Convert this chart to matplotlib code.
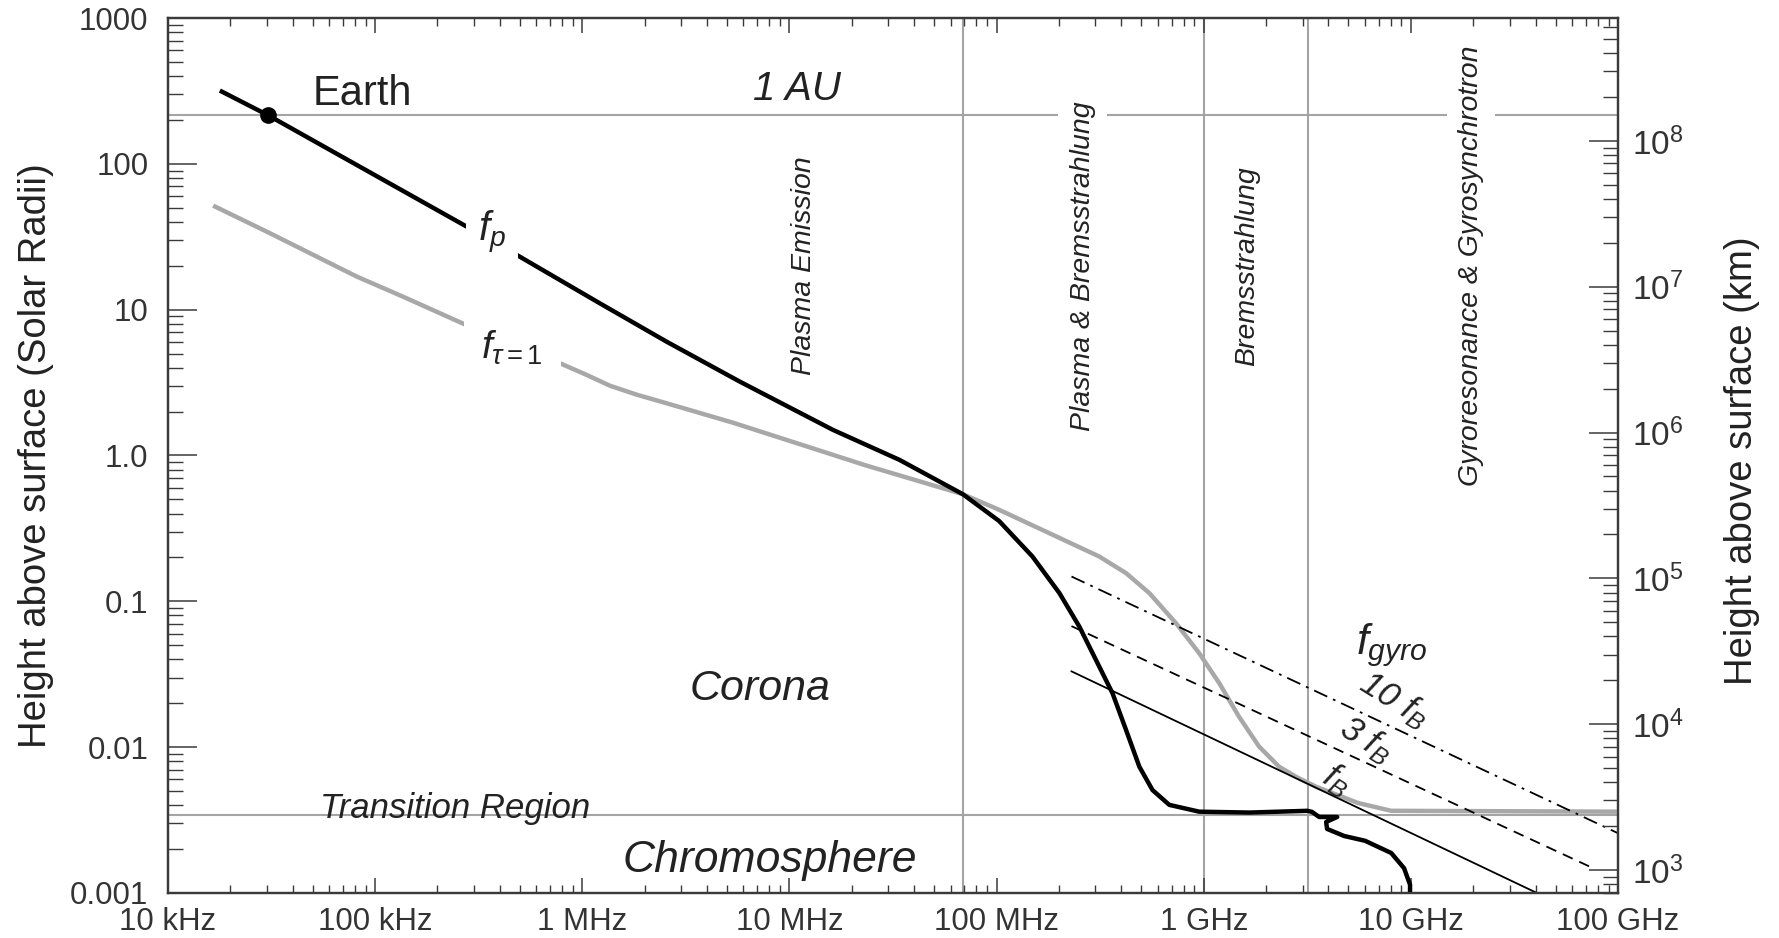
import numpy as np
import matplotlib
matplotlib.use("Agg")
import matplotlib.pyplot as plt
from matplotlib.ticker import LogLocator, NullFormatter

plt.rcParams['font.family'] = ['Liberation Sans', 'DejaVu Sans']
plt.rcParams['mathtext.fontset'] = 'custom'
plt.rcParams['mathtext.rm'] = 'Liberation Sans'
plt.rcParams['mathtext.it'] = 'Liberation Sans:italic'
plt.rcParams['mathtext.bf'] = 'Liberation Sans:bold'
plt.rcParams['mathtext.sf'] = 'Liberation Sans'

# ---------------- data (frequency in Hz, height in solar radii) ----------------
fp_freq = [1.82e4, 3.05e4, 2.76e5, 4.99e5, 1.21e6, 2.55e6, 5.74e6, 1.62e7, 3.40e7,
           6.87e7, 1.03e8, 1.49e8, 2.01e8, 2.51e8, 3.02e8, 3.63e8, 4.22e8, 4.89e8,
           5.66e8, 6.82e8, 9.51e8, 1.66e9, 3.17e9, 3.33e9, 3.61e9, 4.41e9, 3.90e9,
           3.94e9, 4.76e9, 6.01e9, 8.04e9, 9.27e9, 9.91e9, 9.91e9]
fp_height = [313, 215, 37.2, 23.1, 11.1, 6.04, 3.22, 1.50, 0.933,
             0.543, 0.355, 0.203, 0.114, 0.0671, 0.0396, 0.0234, 0.0131, 0.00735,
             0.00508, 0.00402, 0.00361, 0.00356, 0.00366, 0.00360, 0.00332, 0.00332, 0.00307,
             0.00275, 0.00246, 0.00228, 0.00188, 0.00148, 0.00114, 0.0010]

ftau_freq = [1.69e4, 3.10e4, 8.13e4, 1.36e5, 2.86e5, 7.78e5, 1.05e6, 1.36e6, 1.82e6,
             2.64e6, 5.33e6, 2.34e7, 6.87e7, 1.03e8, 1.80e8, 3.13e8, 4.22e8, 5.46e8,
             7.35e8, 9.51e8, 1.19e9, 1.48e9, 1.85e9, 2.31e9, 2.78e9, 3.48e9, 5.56e9,
             8.04e9, 1.0e11]
ftau_height = [50.9, 33.5, 16.9, 12.3, 7.66, 4.30, 3.57, 3.01, 2.62,
               2.25, 1.68, 0.855, 0.543, 0.424, 0.293, 0.203, 0.156, 0.114,
               0.0708, 0.0441, 0.0274, 0.0162, 0.0101, 0.00735, 0.00628, 0.00536, 0.00414,
               0.00366, 0.00361]

fb1_freq = [2.3e8, 4.06e10]
fb1_height = [0.0331, 0.001]
fb3_freq = [2.3e8, 7.35e10]
fb3_height = [0.0676, 0.00151]
fb10_freq = [2.3e8, 1.0e11]
fb10_height = [0.148, 0.00257]

earth_freq = 3.05e4
au_height = 215.0
transition_height = 3.43e-3
boundary_freqs = [6.9e7, 1.0e9, 3.2e9]
R_SUN_KM = 6.96e5

x_ticks = [1e4, 1e5, 1e6, 1e7, 1e8, 1e9, 1e10, 1e11]
x_labels = ['10 kHz', '100 kHz', '1 MHz', '10 MHz', '100 MHz', '1 GHz', '10 GHz', '100 GHz']
y_ticks = [1e-3, 1e-2, 1e-1, 1e0, 1e1, 1e2, 1e3]
y_labels = ['0.001', '0.01', '0.1', '1.0', '10', '100', '1000']
km_ticks = [1e3, 1e4, 1e5, 1e6, 1e7, 1e8]
km_labels = [r'$10^{3}$', r'$10^{4}$', r'$10^{5}$', r'$10^{6}$', r'$10^{7}$', r'$10^{8}$']

# ---------------- styling ----------------
GRID_GRAY = '#a4a4a4'
TAU_GRAY = '#a8a8a8'
SPINE = '#3a3a3a'
TXT = '#222222'
TICKTXT = '#333333'

fig = plt.figure(figsize=(17.79, 9.38), dpi=100)
ax = fig.add_axes([0.0944, 0.048, 0.8151, 0.9328])
ax.set_xscale('log')
ax.set_yscale('log')
ax.set_xlim(x_ticks[0], x_ticks[-1])
ax.set_ylim(y_ticks[0], y_ticks[-1])
ax.set_axisbelow(False)

# reference lines
for f in boundary_freqs:
    ax.axvline(f, color=GRID_GRAY, lw=1.5, zorder=1)
ax.axhline(au_height, color=GRID_GRAY, lw=1.5, zorder=1)
ax.axhline(transition_height, color=GRID_GRAY, lw=1.5, zorder=1)

# curves
ax.plot(ftau_freq, ftau_height, color=TAU_GRAY, lw=3.2, zorder=3, solid_joinstyle='round')
ax.plot(fp_freq, fp_height, color='black', lw=3.2, zorder=4, solid_joinstyle='round')
ax.plot(fb1_freq, fb1_height, color='black', lw=1.3, zorder=5)
ax.plot(fb3_freq, fb3_height, color='black', lw=1.3, zorder=5, linestyle=(0, (6, 4)))
ax.plot(fb10_freq, fb10_height, color='black', lw=1.3, zorder=5, linestyle=(0, (8, 3.5, 1.5, 3.5)))
ax.plot([earth_freq], [au_height], 'o', color='black', ms=11, zorder=6)

# axis ticks
ax.set_xticks(x_ticks, x_labels)
ax.set_yticks(y_ticks, y_labels)
ax.xaxis.set_minor_locator(LogLocator(base=10, subs=np.arange(2, 10), numticks=100))
ax.yaxis.set_minor_locator(LogLocator(base=10, subs=np.arange(2, 10), numticks=100))
ax.xaxis.set_minor_formatter(NullFormatter())
ax.yaxis.set_minor_formatter(NullFormatter())
ax.tick_params(axis='x', which='major', direction='in', length=11, width=1.1, top=True,
               bottom=True, labelsize=22.5, pad=10, color=SPINE, labelcolor=TICKTXT)
ax.tick_params(axis='x', which='minor', direction='in', length=5.5, width=1.0, top=True,
               bottom=True, color=SPINE)
ax.tick_params(axis='y', which='major', direction='in', length=21, width=1.1, left=True,
               right=False, labelsize=22.5, pad=14, color=SPINE, labelcolor=TICKTXT)
ax.tick_params(axis='y', which='minor', direction='in', length=10.5, width=1.0, left=True,
               right=False, color=SPINE)
for s in ax.spines.values():
    s.set_linewidth(1.6)
    s.set_color(SPINE)

ax.set_ylabel('Height above surface (Solar Radii)', fontsize=27.5, color=TXT)
ax.yaxis.label.set_verticalalignment('center')
ax.yaxis.set_label_coords(-0.091, 0.5)

# secondary axis in km
ax2 = ax.twinx()
ax2.set_yscale('log')
ax2.set_ylim(y_ticks[0] * R_SUN_KM, y_ticks[-1] * R_SUN_KM)
ax2.set_yticks(km_ticks, km_labels)
ax2.yaxis.set_minor_locator(LogLocator(base=10, subs=np.arange(2, 10), numticks=100))
ax2.yaxis.set_minor_formatter(NullFormatter())
ax2.tick_params(axis='y', which='major', direction='in', length=21, width=1.1,
                labelsize=24, pad=10, color=SPINE, labelcolor=TICKTXT)
ax2.tick_params(axis='y', which='minor', direction='in', length=10.5, width=1.0, color=SPINE)
for s in ax2.spines.values():
    s.set_linewidth(1.6)
    s.set_color(SPINE)
ax2.set_ylabel('Height above surface (km)', fontsize=27.5, color=TXT)
ax2.yaxis.label.set_verticalalignment('center')
ax2.yaxis.set_label_coords(1.0854, 0.494)

# annotations
ax.text(5.0e4, 254, 'Earth', fontsize=30, color=TXT, ha='left', va='baseline')
ax.text(1.09e7, 275, '1 AU', fontsize=29, style='italic', color=TXT, ha='center', va='baseline')
ax.text(7.2e6, 0.0211, 'Corona', fontsize=31, style='italic', color=TXT, ha='center', va='baseline')
ax.text(8.0e6, 1.39e-3, 'Chromosphere', fontsize=32, style='italic', color=TXT, ha='center', va='baseline')
ax.text(5.4e4, 3.27e-3, 'Transition Region', fontsize=25, style='italic', color=TXT, ha='left', va='baseline')

region_box = dict(boxstyle='square,pad=0.4', fc='white', ec='none')
for x, label in [(1.18e7, 'Plasma Emission'), (2.6e8, 'Plasma & Bremsstrahlung'),
                 (1.62e9, 'Bremsstrahlung'), (1.95e10, 'Gyroresonance & Gyrosynchrotron')]:
    ax.text(x, 20, label, fontsize=20.5, style='italic', color=TXT, rotation=90,
            ha='center', va='center', bbox=region_box, zorder=2)

ax.text(3.66e5, 33.6, r'$f_p$', fontsize=29, color=TXT, ha='center', va='center',
        bbox=dict(boxstyle='square,pad=0.3', fc='white', ec='none'), zorder=7)
ax.text(4.6e5, 5.47, r'$f_{\tau=1}$', fontsize=28, color=TXT, ha='center', va='center',
        bbox=dict(boxstyle='square,pad=0.45', fc='white', ec='none'), zorder=7)
ax.text(8.1e9, 0.0502, r'$f_{gyro}$', fontsize=31, color=TXT, ha='center', va='center', zorder=7)
ax.text(8.3e9, 0.0211, r'10 $f_B$', fontsize=25, style='italic', color=TXT, rotation=-32,
        ha='center', va='center', rotation_mode='anchor', zorder=7)
ax.text(6.08e9, 0.0112, r'3 $f_B$', fontsize=25, style='italic', color=TXT, rotation=-32,
        ha='center', va='center', rotation_mode='anchor', zorder=7)
ax.text(4.4e9, 5.96e-3, r'$f_B$', fontsize=25, color=TXT, rotation=-32,
        ha='center', va='center', rotation_mode='anchor', zorder=7)

fig.savefig('out.png', dpi=100)
